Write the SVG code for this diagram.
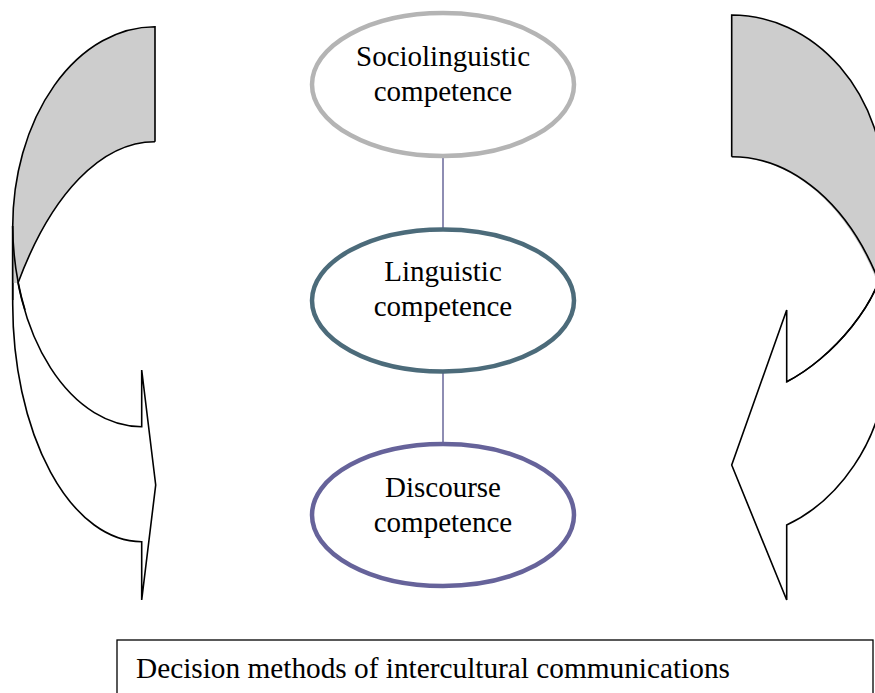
<svg xmlns="http://www.w3.org/2000/svg" width="875" height="693" viewBox="0 0 875 693">
<style>
.lbl{font-family:"Liberation Serif","Times New Roman",serif;font-size:29px;fill:#000;text-anchor:middle}
.band{fill:#fff;stroke:#000;stroke-width:1.6;stroke-linejoin:miter}
.shade{fill:#cdcdcd;stroke:none}
.edge{fill:none;stroke:#000;stroke-width:1.6}
.node{fill:#fff;stroke-width:4.5}
.conn{stroke:#68679a;stroke-width:1.5;fill:none}
</style>
<rect width="875" height="693" fill="#fff"/>
<g id="left-arrow">
<path class="band" d="M12.7,226 L12.7,304 A129,238 0 0 0 141.7,541.7 L141.7,600 L155.7,485 L141.7,370 L141.7,426.7 A129,201 0 0 1 12.7,226 Z"/>
<path class="shade" d="M155,26.7 A142.3,200.3 0 0 0 12.7,227 L12.7,283 L18,283 A175,375 0 0 1 155,141.7 Z"/>
<path class="edge" d="M155,141.7 L155,26.7 A142.3,200.3 0 0 0 12.7,227 L12.7,300"/>
<path class="edge" d="M18,283 A175,375 0 0 1 155,141.7"/>
<path class="edge" d="M12.7,226 A129,201 0 0 0 25,310"/>
</g>
<g id="right-arrow">
<path class="band" d="M884.7,250 L884.7,380 C880,440 840,500 786.7,525 L786.7,600 L731.7,465 L786.7,310 L786.7,381.7 C830,360 884.7,300 884.7,250 Z"/>
<path class="shade" d="M731.7,15 A153,177 0 0 1 884.7,192 L884.7,284 L878,284 A170,250 0 0 0 731.7,156.7 Z"/>
<path class="edge" d="M731.7,156.7 L731.7,15 A153,177 0 0 1 884.7,192"/>
<path class="edge" d="M731.7,156.7 A170,250 0 0 1 880,284.4"/>
<path class="edge" d="M884.7,250 C884.7,300 830,360 786.7,381.7"/>
</g>
<g id="connectors">
<line class="conn" x1="443" y1="157" x2="443" y2="228"/>
<line class="conn" x1="443" y1="373" x2="443" y2="444"/>
</g>
<g id="node-sociolinguistic">
<ellipse class="node" cx="443" cy="84.5" rx="131" ry="71.5" stroke="#b4b4b4"/>
<text class="lbl" x="443" y="66">Sociolinguistic</text>
<text class="lbl" x="443" y="101">competence</text>
</g>
<g id="node-linguistic">
<ellipse class="node" cx="443" cy="300.5" rx="131" ry="71" stroke="#4c6b7a"/>
<text class="lbl" x="443" y="281">Linguistic</text>
<text class="lbl" x="443" y="316">competence</text>
</g>
<g id="node-discourse">
<ellipse class="node" cx="443" cy="515" rx="131" ry="71" stroke="#66639a"/>
<text class="lbl" x="443" y="497">Discourse</text>
<text class="lbl" x="443" y="532">competence</text>
</g>
<g id="node-decision">
<rect x="117" y="640" width="756" height="70" fill="#fff" stroke="#000" stroke-width="1.3"/>
<text class="lbl" x="136" y="678" style="text-anchor:start;font-size:29.3px">Decision methods of intercultural communications</text>
</g>
</svg>
